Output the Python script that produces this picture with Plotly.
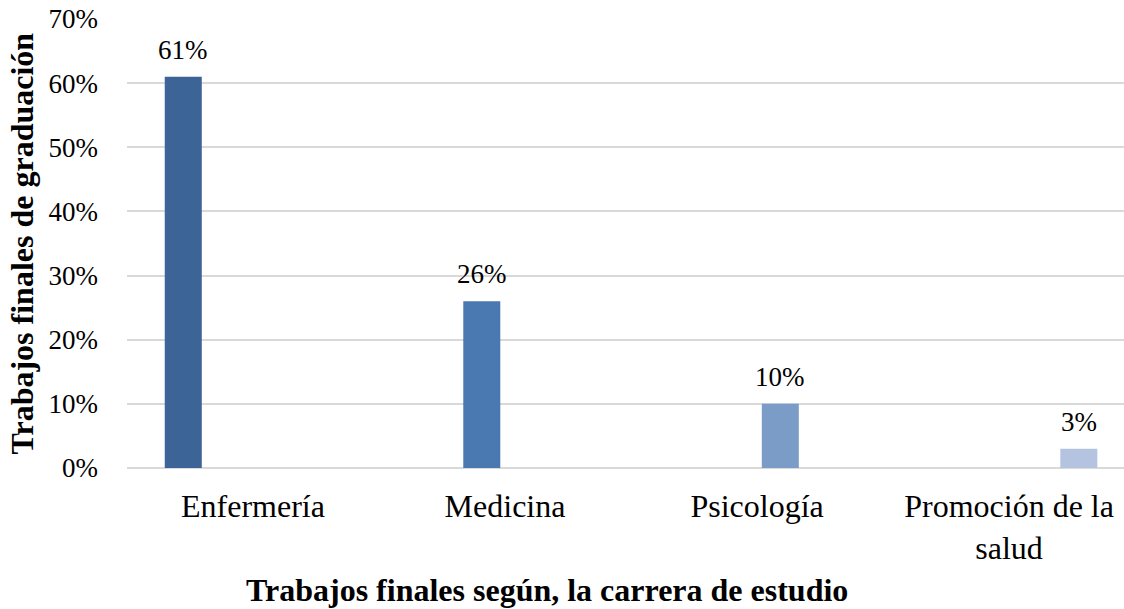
import plotly.graph_objects as go

categories = ["Enfermería", "Medicina", "Psicología", "Promoción de la<br>salud"]
values = [0.61, 0.26, 0.10, 0.03]
labels = ["61%", "26%", "10%", "3%"]
colors = ["#3C6496", "#4A78B0", "#7C9CC8", "#B4C4E0"]
y_ticks = [0, 0.1, 0.2, 0.3, 0.4, 0.5, 0.6, 0.7]
y_ticklabels = ["0%", "10%", "20%", "30%", "40%", "50%", "60%", "70%"]

FONT = "Liberation Serif, Times New Roman, serif"
BARGAP = 0.262
N = len(categories)

fig = go.Figure()
for i, cat in enumerate(categories):
    ys = [values[i] if j == i else None for j in range(N)]
    fig.add_trace(go.Bar(
        x=categories, y=ys,
        marker=dict(color=colors[i], line=dict(width=0)),
        cliponaxis=False, showlegend=False, name=cat,
    ))
    # data label centred over this series' bar within its group
    slot = (1 - BARGAP) / N
    fig.add_annotation(
        x=i + (i - (N - 1) / 2) * slot, y=values[i], xref="x", yref="y",
        text=labels[i], showarrow=False, yanchor="bottom", yshift=10,
        font=dict(family=FONT, size=27, color="#000000"),
    )

fig.add_annotation(
    x=0.4213, y=0, xref="paper", yref="paper", yanchor="middle", yshift=-122,
    text="<b>Trabajos finales según, la carrera de estudio</b>", showarrow=False,
    font=dict(family=FONT, size=32, color="#000000"),
)
fig.add_annotation(
    x=0, y=0.5, xref="paper", yref="paper", xanchor="center", yanchor="middle",
    xshift=-106, textangle=-90,
    text="<b>Trabajos finales de graduación</b>", showarrow=False,
    font=dict(family=FONT, size=32, color="#000000"),
)

fig.update_layout(
    width=1124, height=609,
    margin=dict(l=127, r=0, t=19, b=141, autoexpand=False),
    paper_bgcolor="white", plot_bgcolor="white",
    barmode="group", bargap=BARGAP, bargroupgap=0.204,
    font=dict(family=FONT, size=27, color="#000000"),
)
fig.update_xaxes(
    range=[-0.5, 3.456], showline=False, ticks="", showgrid=False,
    ticklabelstandoff=16, automargin=False,
    tickfont=dict(family=FONT, size=32, color="#000000"),
)
fig.update_yaxes(
    range=[0, 0.70001], tickvals=y_ticks, ticktext=y_ticklabels,
    showgrid=True, gridcolor="#D9D9D9", gridwidth=2,
    zeroline=True, zerolinecolor="#D9D9D9", zerolinewidth=2,
    showline=False, ticks="", ticklabelstandoff=28, automargin=False,
    ticklabeloverflow="allow",
    tickfont=dict(family=FONT, size=27, color="#000000"),
)

fig.write_html(
    "out.html",
    config={"displayModeBar": False},
    post_script="document.body.style.margin='0';document.body.style.overflow='hidden';",
)
